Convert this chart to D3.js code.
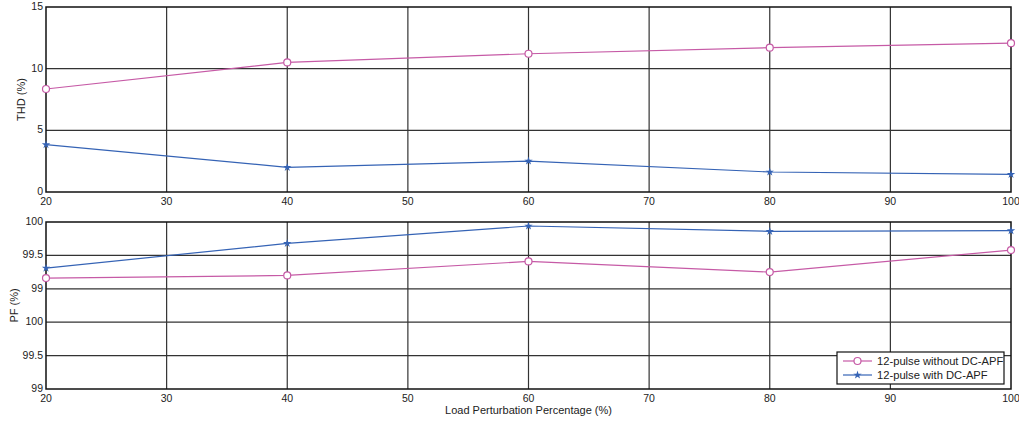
<!DOCTYPE html>
<html>
<head>
<meta charset="utf-8">
<script src="https://cdn.jsdelivr.net/npm/d3@7"></script>
<style>
  body { margin: 0; background: #fff; }
  svg text { font-family: "Liberation Sans", Arial, sans-serif; fill: #222; }
</style>
</head>
<body>
<svg id="chart"></svg>
<script>
// data
const loads = [20, 40, 60, 80, 100];
const thdWithout = [8.35, 10.51, 11.21, 11.70, 12.07];
const thdWith    = [3.84, 2.00, 2.51, 1.62, 1.43];
const pfWithout  = [99.16, 99.20, 99.41, 99.25, 99.58];
const pfWith     = [99.31, 99.68, 99.94, 99.86, 99.87];

const xTicks = [20, 30, 40, 50, 60, 70, 80, 90, 100];
const thdTicks = [0, 5, 10, 15];
// the PF axis repeats its labels, as in the original figure
const pfTicks = [97.5, 98, 98.5, 99, 99.5, 100];
const pfTickLabels = ["99", "99.5", "100", "99", "99.5", "100"];

const seriesNames = ["12-pulse without DC-APF", "12-pulse with DC-APF"];
const colors = ["#c65aa6", "#3563b5"];

const W = 1019, H = 423;
const svg = d3.select('#chart').attr('width', W).attr('height', H);

const x = d3.scaleLinear().domain([20, 100]).range([46, 1011]);
const yThd = d3.scaleLinear().domain([0, 15]).range([192, 7]);
const yPf = d3.scaleLinear().domain([97.5, 100]).range([389, 222]);

// draws one panel: grid, box, ticks, labels
const drawPanel = function(y, yTicks, yLabels, yTitle, titleX) {
  const g = svg.append('g');
  const [y0, y1] = y.range();

  // grid
  g.selectAll('.gx').data(xTicks.slice(1, -1)).join('line')
    .attr('x1', d => x(d)).attr('x2', d => x(d))
    .attr('y1', y1).attr('y2', y0)
    .attr('stroke', '#333').attr('stroke-width', 1.2);
  g.selectAll('.gy').data(yTicks.slice(1, -1)).join('line')
    .attr('x1', x.range()[0]).attr('x2', x.range()[1])
    .attr('y1', d => y(d)).attr('y2', d => y(d))
    .attr('stroke', '#333').attr('stroke-width', 1.2);

  // box
  g.append('rect')
    .attr('x', x.range()[0]).attr('y', y1)
    .attr('width', x.range()[1] - x.range()[0]).attr('height', y0 - y1)
    .attr('fill', 'none').attr('stroke', '#111').attr('stroke-width', 1.5);

  // x tick labels
  g.selectAll('.xl').data(xTicks).join('text')
    .attr('x', d => x(d)).attr('y', y0 + 13)
    .attr('text-anchor', 'middle').attr('font-size', 10.5)
    .text(d => d);

  // y tick labels
  g.selectAll('.yl').data(yTicks).join('text')
    .attr('x', x.range()[0] - 3).attr('y', d => y(d) + 3)
    .attr('text-anchor', 'end').attr('font-size', 10.5)
    .text((d, i) => yLabels[i]);

  g.append('text')
    .attr('transform', `translate(${titleX},${(y0 + y1) / 2}) rotate(-90)`)
    .attr('text-anchor', 'middle').attr('font-size', 11)
    .text(yTitle);
};

drawPanel(yThd, thdTicks, thdTicks.map(String), 'THD (%)', 25);
drawPanel(yPf, pfTicks, pfTickLabels, 'PF (%)', 18);

svg.append('text')
  .attr('x', (x.range()[0] + x.range()[1]) / 2).attr('y', 414)
  .attr('text-anchor', 'middle').attr('font-size', 11)
  .text('Load Perturbation Percentage (%)');

// star-like marker for the DC-APF series
const star = d3.symbol().type(d3.symbolStar).size(22);

const drawSeries = function(y, vals, i) {
  const pts = loads.map((l, k) => [x(l), y(vals[k])]);
  svg.append('path')
    .attr('d', d3.line()(pts))
    .attr('fill', 'none').attr('stroke', colors[i]).attr('stroke-width', 1.2);
  if (i === 0) {
    svg.selectAll(null).data(pts).join('circle')
      .attr('cx', d => d[0]).attr('cy', d => d[1]).attr('r', 3.5)
      .attr('fill', '#fff').attr('stroke', colors[i]).attr('stroke-width', 1.2);
  } else {
    svg.selectAll(null).data(pts).join('path')
      .attr('transform', d => `translate(${d[0]},${d[1]})`)
      .attr('d', star).attr('fill', colors[i]);
  }
};

drawSeries(yThd, thdWithout, 0);
drawSeries(yThd, thdWith, 1);
drawSeries(yPf, pfWithout, 0);
drawSeries(yPf, pfWith, 1);

// legend
const lg = svg.append('g').attr('transform', 'translate(837,352)');
lg.append('rect').attr('width', 167).attr('height', 32)
  .attr('fill', '#fff').attr('stroke', '#111').attr('stroke-width', 1.2);
seriesNames.forEach(function(name, i) {
  const yy = 9 + i * 14;
  lg.append('line').attr('x1', 6).attr('x2', 35).attr('y1', yy).attr('y2', yy)
    .attr('stroke', colors[i]).attr('stroke-width', 1.2);
  if (i === 0) {
    lg.append('circle').attr('cx', 20.5).attr('cy', yy).attr('r', 3.5)
      .attr('fill', '#fff').attr('stroke', colors[i]).attr('stroke-width', 1.2);
  } else {
    lg.append('path').attr('transform', `translate(20.5,${yy})`)
      .attr('d', star).attr('fill', colors[i]);
  }
  lg.append('text').attr('x', 40).attr('y', yy + 4)
    .attr('font-size', 11.2).text(name);
});
</script>
</body>
</html>
